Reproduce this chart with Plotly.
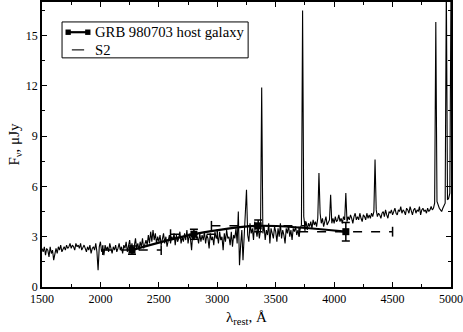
import numpy as np
import plotly.graph_objects as go

# S2 spectrum, 10 A steps from 1500 to 5000
wave_start = 1500
wave_step = 10
s2_flux = [
    2.3, 2.1, 2.4, 1.9, 2.3, 2.2, 1.8, 2.4, 2.0, 2.2,
    1.6, 2.1, 2.3, 2.0, 2.4, 2.2, 2.5, 2.1, 2.3, 2.4,
    2.2, 2.5, 2.3, 2.4, 2.6, 2.3, 2.5, 2.4, 2.2, 2.6,
    2.4, 2.5, 2.3, 2.6, 2.2, 2.4, 2.5, 2.3, 2.1, 2.4,
    2.2, 2.5, 2.0, 2.3, 2.4, 2.2, 2.6, 2.1, 1.0, 2.4,
    2.7, 2.1, 2.3, 1.9, 2.5, 2.2, 2.4, 2.1, 2.6, 2.3,
    2.0, 2.4, 2.2, 2.5, 2.1, 2.3, 2.6, 2.2, 2.4, 2.0,
    2.5, 2.3, 2.7, 2.1, 2.4, 2.8, 2.2, 2.6, 2.0, 2.5,
    2.9, 2.3, 2.6, 2.2, 2.7, 2.4, 2.9, 2.3, 2.6, 2.8,
    2.5, 3.1, 2.6, 3.3, 2.7, 3.4, 2.8, 3.2, 2.6, 3.0,
    2.7, 3.1, 2.5, 2.9, 3.2, 2.6, 3.0, 2.4, 2.8, 3.1,
    2.6, 3.0, 2.8, 3.2, 2.5, 3.1, 2.7, 2.9, 3.3, 2.6,
    3.0, 2.7, 3.2, 2.8, 3.4, 2.6, 3.1, 2.9, 2.2, 3.2,
    2.8, 3.3, 2.9, 3.0, 2.6, 3.2, 2.7, 3.1, 2.8, 3.3,
    2.6, 3.1, 2.9, 2.3, 3.2, 2.8, 3.0, 2.5, 3.3, 2.9,
    3.1, 2.6, 3.3, 2.8, 3.0, 2.2, 3.2, 2.7, 3.4, 2.9,
    3.0, 2.5, 3.3, 2.4, 3.1, 2.9, 3.5, 2.6, 4.5, 1.3,
    2.5, 3.4, 1.6, 3.0, 3.6, 5.8, 3.1, 2.7, 3.8, 3.2,
    3.5, 2.8, 3.9, 3.3, 3.0, 3.6, 2.9, 3.4, 11.9, 3.2,
    3.7, 2.8, 3.4, 3.1, 3.8, 2.6, 3.5, 3.2, 2.9, 3.6,
    3.3, 2.7, 3.5, 3.0, 3.8, 2.9, 3.4, 3.1, 2.6, 3.5,
    3.2, 3.7, 3.0, 3.4, 2.8, 3.5, 3.3, 3.6, 3.1, 3.4,
    3.0, 3.5, 3.7, 16.5, 4.2, 3.6, 3.9, 3.4, 3.8, 3.6,
    3.9, 3.5, 4.0, 3.7, 3.9, 3.6, 4.1, 6.8, 4.4, 3.8,
    4.1, 3.6, 4.0, 4.2, 3.7, 3.9, 4.0, 5.5, 3.8, 4.1,
    3.8, 4.2, 3.9, 4.0, 4.3, 3.9, 4.1, 3.8, 4.2, 4.0,
    5.6, 3.9, 4.2, 4.0, 4.3, 4.1, 3.8, 4.2, 4.4, 4.0,
    4.2, 4.0, 4.4, 4.1, 3.9, 4.3, 4.2, 4.0, 4.4, 4.1,
    4.3, 4.1, 4.4, 4.2, 4.5, 7.6, 4.6, 4.2, 4.4, 4.3,
    4.1, 4.4, 4.5, 4.2, 4.6, 4.3, 4.1, 4.5, 4.4, 4.6,
    4.3, 4.5, 4.7, 4.4, 4.3, 4.6, 4.5, 4.8, 4.4, 4.6,
    4.5, 4.3, 4.7, 4.6, 4.4, 4.8, 4.5, 4.3, 4.6, 4.7,
    4.4, 4.6, 4.5, 4.8, 4.3, 4.6, 4.7, 4.5, 4.6, 4.4,
    4.7, 4.5, 4.6, 4.8, 4.6, 4.7, 5.0, 15.8, 5.1, 4.8,
    4.7, 4.6, 4.5, 4.7, 4.9, 5.0, 18.0, 5.2, 5.3, 5.6,
    18.0,
]
s2_wave = wave_start + wave_step * np.arange(len(s2_flux))

# GRB 980703 host galaxy photometry
host_wave = [2270, 2800, 3350, 4100]
host_flux = [2.2, 3.15, 3.65, 3.3]
host_wave_err = [250, 200, 400, 400]
host_flux_err = [0.25, 0.3, 0.35, 0.55]

legend_labels = ["GRB 980703 host galaxy", "S2"]

serif = "Liberation Serif, Times New Roman, serif"

fig = go.Figure()

# dashed horizontal error bars
ex, ey = [], []
for w, f, dw in zip(host_wave, host_flux, host_wave_err):
    ex += [w - dw, w + dw, None]
    ey += [f, f, None]
fig.add_trace(go.Scatter(
    x=ex, y=ey, mode="lines+markers",
    line=dict(color="black", width=1.5, dash="dash"),
    marker=dict(symbol="line-ns-open", size=7, color="black", line=dict(width=1.5, color="black")),
    showlegend=False, hoverinfo="skip",
))

fig.add_trace(go.Scatter(
    x=host_wave, y=host_flux, mode="lines+markers",
    name=legend_labels[0], showlegend=False,
    line=dict(color="black", width=2.2, shape="spline", smoothing=0.8),
    marker=dict(symbol="square", size=7, color="black"),
    error_y=dict(type="data", array=host_flux_err, color="black", thickness=1.5, width=4),
))

fig.add_trace(go.Scatter(
    x=s2_wave, y=s2_flux, mode="lines", name=legend_labels[1], showlegend=False,
    line=dict(color="black", width=1.1),
))

# legend drawn by hand (tighter rows than plotly's legend allows)
box = dict(x0=0.049, x1=0.504, y0=0.804, y1=0.930)
row_y = [0.894, 0.832]
fig.add_shape(type="rect", xref="paper", yref="paper", **box,
              line=dict(color="black", width=1), fillcolor="white", layer="above")
fig.add_shape(type="line", xref="paper", yref="paper", x0=0.061, x1=0.115,
              y0=row_y[0], y1=row_y[0], line=dict(color="black", width=2.2), layer="above")
for xc in (0.064, 0.112):
    fig.add_shape(type="rect", xref="paper", yref="paper", x0=xc - 0.0065, x1=xc + 0.0065,
                  y0=row_y[0] - 0.0095, y1=row_y[0] + 0.0095,
                  line=dict(color="black", width=0), fillcolor="black", layer="above")
fig.add_shape(type="line", xref="paper", yref="paper", x0=0.073, x1=0.103,
              y0=row_y[1], y1=row_y[1], line=dict(color="black", width=1.1), layer="above")
for label, yy in zip(legend_labels, row_y):
    fig.add_annotation(x=0.124, y=yy, xref="paper", yref="paper", text=label,
                       showarrow=False, xanchor="left", yanchor="middle",
                       font=dict(family=serif, size=14.7, color="black"))

axis_common = dict(
    showline=True, linecolor="black", linewidth=1.5, mirror="allticks",
    ticks="inside", ticklen=5, tickcolor="black", tickwidth=1,
    showgrid=False, zeroline=False, automargin=False,
    tickfont=dict(family=serif, size=12, color="black"),
)

fig.update_xaxes(
    range=[1500, 5000], dtick=500, tick0=1500,
    minor=dict(ticks="inside", dtick=250, ticklen=3, tickcolor="black", showgrid=False),
    **axis_common,
)
fig.update_yaxes(
    range=[0, 17], dtick=3, tick0=0,
    minor=dict(ticks="inside", dtick=1.5, ticklen=3, tickcolor="black", showgrid=False),
    title=dict(text="F<sub>ν</sub>, μJy", font=dict(family=serif, size=15, color="black"), standoff=3),
    **axis_common,
)
fig.add_annotation(x=0.5, y=-0.108, xref="paper", yref="paper",
                   text="λ<sub>rest</sub>, Å", showarrow=False,
                   xanchor="center", yanchor="middle",
                   font=dict(family=serif, size=15, color="black"))

fig.update_layout(
    width=463, height=332,
    margin=dict(l=42, r=12, t=2, b=45),
    plot_bgcolor="white", paper_bgcolor="white",
    showlegend=False,
)

# remove the default page margin so the figure sits at the window corner
fig.write_html(
    "out.html",
    config={"displayModeBar": False},
    post_script="document.body.style.margin='0';",
)
